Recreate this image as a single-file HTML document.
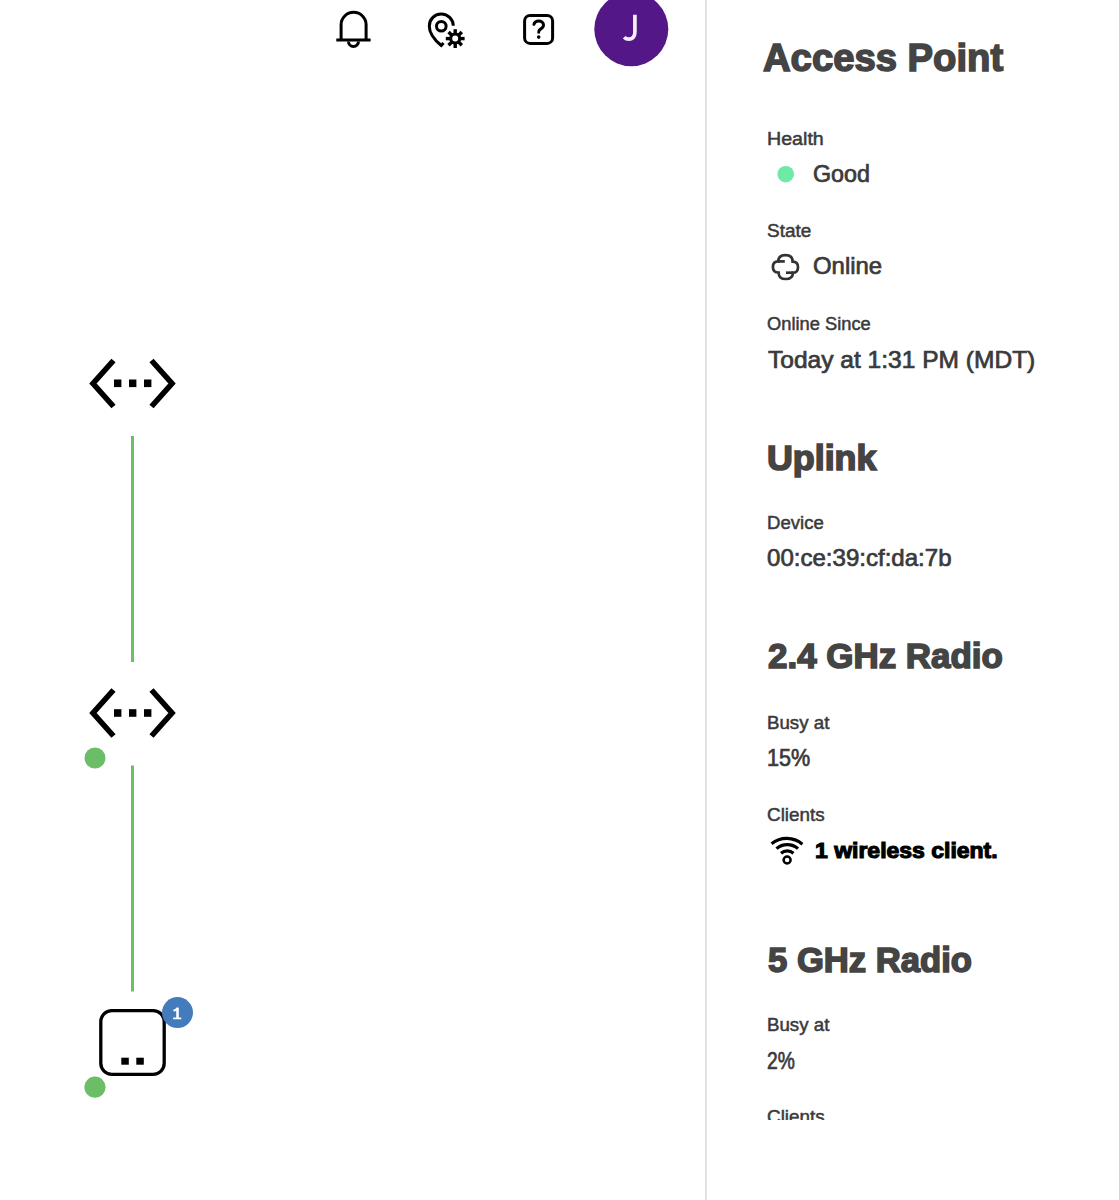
<!DOCTYPE html>
<html><head><meta charset="utf-8">
<style>
html,body{margin:0;padding:0;background:#fff;}
body{width:1119px;height:1200px;position:relative;overflow:hidden;font-family:"Liberation Sans",sans-serif;}
.t{position:absolute;white-space:nowrap;line-height:1em;transform-origin:0 0;}
.ab{position:absolute;}
#divider{position:absolute;left:705px;top:0;width:2px;height:1200px;background:#e1e1e1;}
#panelclip{position:absolute;left:707px;top:0;width:412px;height:1120px;overflow:hidden;}
#panelclip .t{margin-left:-707px;}
</style></head><body>
<div id="divider"></div>
<!-- header icons -->
<svg class="ab" style="left:0;top:0" width="705" height="80" viewBox="0 0 705 80">
  <!-- bell -->
  <g fill="none" stroke="#000" stroke-width="3">
    <path d="M341.1 40 V24.8 A12.5 12.5 0 0 1 366.1 24.8 V40"/>
    <path d="M336.3 40 H370.6"/>
    <path d="M348.5 41.5 A5 5 0 0 0 358.5 41.5"/>
  </g>
  <!-- location gear -->
  <g fill="none" stroke="#000" stroke-width="3">
    <path d="M453.3 25.8 A12 12 0 0 0 429.3 26.2 C429.3 33 434 39.5 441.3 45.5 L443.5 43"/>
    <circle cx="441.3" cy="26.3" r="4.8"/>
  </g>
  <g transform="translate(455.2 38.6)">
    <circle r="4.5" fill="none" stroke="#000" stroke-width="3"/>
    <g fill="#000">
      <rect x="-1.7" y="-9.4" width="3.4" height="4.6" transform="rotate(0)"/>
      <rect x="-1.7" y="-9.4" width="3.4" height="4.6" transform="rotate(45)"/>
      <rect x="-1.7" y="-9.4" width="3.4" height="4.6" transform="rotate(90)"/>
      <rect x="-1.7" y="-9.4" width="3.4" height="4.6" transform="rotate(135)"/>
      <rect x="-1.7" y="-9.4" width="3.4" height="4.6" transform="rotate(180)"/>
      <rect x="-1.7" y="-9.4" width="3.4" height="4.6" transform="rotate(225)"/>
      <rect x="-1.7" y="-9.4" width="3.4" height="4.6" transform="rotate(270)"/>
      <rect x="-1.7" y="-9.4" width="3.4" height="4.6" transform="rotate(315)"/>
    </g>
  </g>
  <!-- help -->
  <g fill="none" stroke="#000" stroke-width="3">
    <rect x="524.6" y="15.4" width="28" height="28" rx="5.5"/>
    <path d="M533.9 24.4 C534.5 22 536.3 20.9 538.7 20.9 C541.5 20.9 543.5 22.6 543.5 24.9 C543.5 27.2 542 28.2 540.5 29.1 C539.3 29.8 538.7 30.7 538.7 32.2" stroke-linecap="round"/>
  </g>
  <circle cx="538.7" cy="37.1" r="1.8" fill="#000"/>
  <!-- avatar -->
  <circle cx="631.3" cy="29.2" r="37" fill="#541787"/>
  <path d="M634.9 14.7 V32.3 C634.9 36.8 632.3 39.2 628.8 39.2 C626.9 39.2 625.4 38.5 624.1 37.2" fill="none" stroke="#f4effa" stroke-width="3.7"/>
</svg>

<!-- topology -->
<svg class="ab" style="left:0;top:300px" width="260" height="820" viewBox="0 300 260 820">
  <g fill="none" stroke="#000" stroke-width="5.6" stroke-linejoin="miter">
    <path d="M113.5 360.5 L93 383.5 L113.5 406.5"/>
    <path d="M151.5 360.5 L172 383.5 L151.5 406.5"/>
    <path d="M113.5 690 L93 713 L113.5 736"/>
    <path d="M151.5 690 L172 713 L151.5 736"/>
  </g>
  <g fill="#000">
    <rect x="114" y="379.5" width="7.4" height="7.6"/>
    <rect x="129" y="379.5" width="7.4" height="7.6"/>
    <rect x="144" y="379.5" width="7.4" height="7.6"/>
    <rect x="114" y="709.2" width="7.4" height="7.6"/>
    <rect x="129" y="709.2" width="7.4" height="7.6"/>
    <rect x="144" y="709.2" width="7.4" height="7.6"/>
  </g>
  <rect x="131" y="436" width="3" height="226" fill="#6bbd68"/>
  <rect x="131" y="765.5" width="3" height="226" fill="#6bbd68"/>
  <circle cx="95" cy="758" r="10.5" fill="#6bbd68"/>
  <circle cx="95" cy="1087.2" r="10.6" fill="#6bbd68"/>
  <rect x="100.8" y="1010.7" width="63.4" height="63.6" rx="11" fill="none" stroke="#000" stroke-width="3.3"/>
  <rect x="121.3" y="1057.7" width="7.5" height="7" fill="#000"/>
  <rect x="136.3" y="1057.7" width="7.5" height="7" fill="#000"/>
  <circle cx="177.5" cy="1012.6" r="15.5" fill="#447bbd"/>
  <g fill="none" stroke="#fff">
    <path d="M177.5 1007.6 V1018.4" stroke-width="2.5"/>
    <path d="M173.1 1018.4 H181.3" stroke-width="1.7"/>
    <path d="M178.2 1008.3 L173.6 1010.9" stroke-width="2.1"/>
  </g>
</svg>

<!-- panel icons -->
<svg class="ab" style="left:707px;top:0" width="412" height="1120" viewBox="707 0 412 1120">
  <circle cx="785.7" cy="174.2" r="8.3" fill="#6fe9a6"/>
  <g transform="translate(765 248)" fill="none" stroke="#333" stroke-width="2.7">
    <path d="M13.3 13.4 C13.30 9.18 15.59 7.20 20.45 7.20 C25.31 7.20 27.60 9.25 27.60 13.60 C31.27 13.60 33.00 15.38 33.00 19.15 C33.00 22.92 31.37 24.70 27.90 24.70 C27.90 28.98 25.61 31.00 20.75 31.00 C15.89 31.00 13.60 28.92 13.60 24.50 C9.72 24.50 7.90 22.72 7.90 18.95 C7.90 15.18 9.63 13.40 13.30 13.40 Z"/>
    <path d="M13.2 13.4 H19.8"/>
    <path d="M27.9 24.7 H21.0"/>
  </g>
  <g transform="translate(760 800)" fill="none" stroke="#000" stroke-width="3.1">
    <path d="M11.6 43.8 A24 24 0 0 1 42.4 44.2"/>
    <path d="M16.5 48.7 A16.3 16.3 0 0 1 38 48.7"/>
    <path d="M21 53.2 A9.6 9.6 0 0 1 33.5 53.2"/>
    <circle cx="27.1" cy="60" r="3.5" stroke-width="2.5"/>
  </g>
</svg>
<div id="panelclip">
<div class="t" id="t_ap" style="left:763.03px;top:38.30px;font-size:39.57px;color:#444444;transform:scaleX(0.9668);font-weight:bold;-webkit-text-stroke:1.6px #444444;">Access Point</div>
<div class="t" id="l_health" style="left:766.68px;top:129.54px;font-size:18.13px;color:#3a3a3a;transform:scaleX(1.0850);-webkit-text-stroke:0.5px #3a3a3a;">Health</div>
<div class="t" id="v_good" style="left:813.39px;top:162.70px;font-size:23.62px;color:#3a3a3a;transform:scaleX(0.9861);-webkit-text-stroke:0.7px #3a3a3a;">Good</div>
<div class="t" id="l_state" style="left:767.09px;top:222.41px;font-size:18.06px;color:#3a3a3a;transform:scaleX(1.0489);-webkit-text-stroke:0.5px #3a3a3a;">State</div>
<div class="t" id="v_online" style="left:813.39px;top:254.34px;font-size:23.76px;color:#3a3a3a;transform:scaleX(1.0065);-webkit-text-stroke:0.7px #3a3a3a;">Online</div>
<div class="t" id="l_since" style="left:767.32px;top:315.22px;font-size:18.56px;color:#3a3a3a;transform:scaleX(0.9865);-webkit-text-stroke:0.5px #3a3a3a;">Online Since</div>
<div class="t" id="v_today" style="left:767.96px;top:348.80px;font-size:23.06px;color:#3a3a3a;transform:scaleX(1.0648);-webkit-text-stroke:0.7px #3a3a3a;">Today at 1:31 PM (MDT)</div>
<div class="t" id="t_uplink" style="left:766.65px;top:441.25px;font-size:34.21px;color:#444444;transform:scaleX(1.0465);font-weight:bold;-webkit-text-stroke:1.6px #444444;">Uplink</div>
<div class="t" id="l_device" style="left:766.96px;top:513.98px;font-size:18.42px;color:#3a3a3a;transform:scaleX(1.0083);-webkit-text-stroke:0.5px #3a3a3a;">Device</div>
<div class="t" id="v_mac" style="left:767.13px;top:547.10px;font-size:23.20px;color:#3a3a3a;transform:scaleX(1.0372);-webkit-text-stroke:0.7px #3a3a3a;">00:ce:39:cf:da:7b</div>
<div class="t" id="t_24" style="left:767.85px;top:638.44px;font-size:35.07px;color:#444444;transform:scaleX(0.9963);font-weight:bold;-webkit-text-stroke:1.6px #444444;">2.4 GHz Radio</div>
<div class="t" id="l_busy1" style="left:766.75px;top:713.97px;font-size:18.28px;color:#3a3a3a;transform:scaleX(1.0231);-webkit-text-stroke:0.5px #3a3a3a;">Busy at</div>
<div class="t" id="v_15" style="left:766.84px;top:747.07px;font-size:23.62px;color:#3a3a3a;transform:scaleX(0.9126);-webkit-text-stroke:0.7px #3a3a3a;">15%</div>
<div class="t" id="l_cli1" style="left:766.91px;top:806.35px;font-size:18.28px;color:#3a3a3a;transform:scaleX(1.0331);-webkit-text-stroke:0.5px #3a3a3a;">Clients</div>
<div class="t" id="v_wl" style="left:815.07px;top:839.52px;font-size:21.57px;color:#000000;transform:scaleX(1.0657);font-weight:bold;-webkit-text-stroke:1.1px #000000;">1 wireless client.</div>
<div class="t" id="t_5" style="left:767.76px;top:941.91px;font-size:35.00px;color:#444444;transform:scaleX(0.9897);font-weight:bold;-webkit-text-stroke:1.6px #444444;">5 GHz Radio</div>
<div class="t" id="l_busy2" style="left:766.75px;top:1016.02px;font-size:18.28px;color:#3a3a3a;transform:scaleX(1.0231);-webkit-text-stroke:0.5px #3a3a3a;">Busy at</div>
<div class="t" id="v_2" style="left:767.39px;top:1048.50px;font-size:24.04px;color:#3a3a3a;transform:scaleX(0.8008);-webkit-text-stroke:0.7px #3a3a3a;">2%</div>
<div class="t" id="l_cli2" style="left:766.91px;top:1108.14px;font-size:18.28px;color:#3a3a3a;transform:scaleX(1.0331);-webkit-text-stroke:0.5px #3a3a3a;">Clients</div>
</div>
</body></html>
